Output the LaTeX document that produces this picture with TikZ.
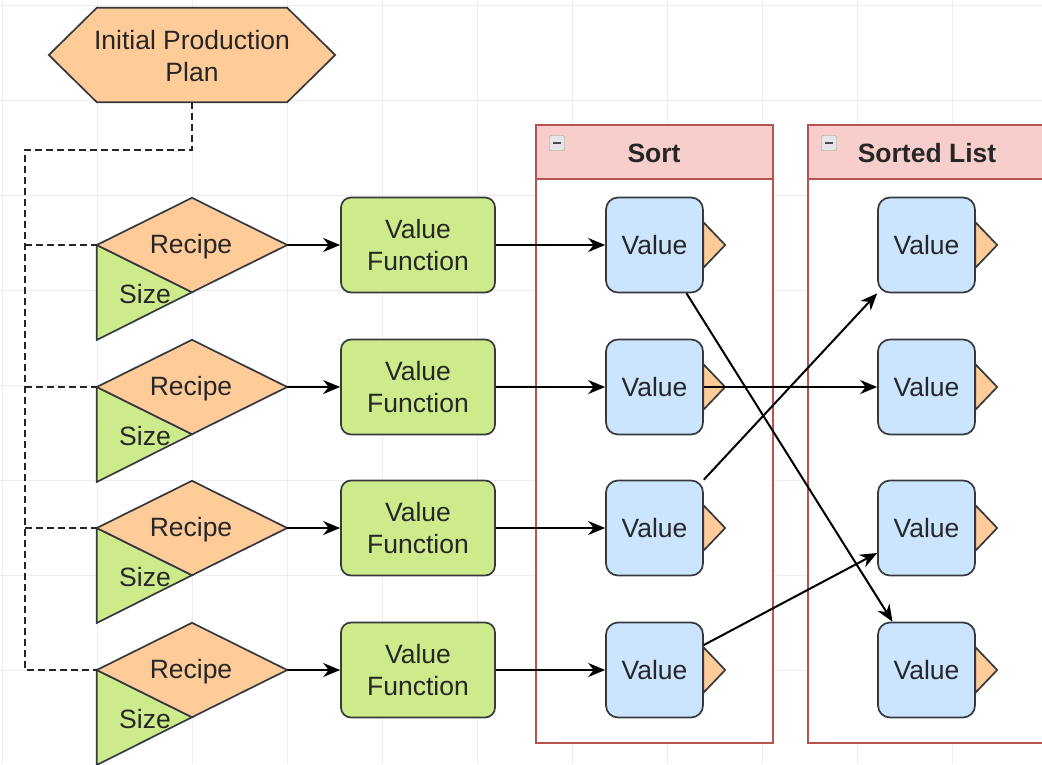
\documentclass[tikz,border=0pt]{standalone}
\usepackage{fontspec}
\setmainfont{Liberation Sans}
\usetikzlibrary{arrows.meta,calc}
\definecolor{orangeF}{HTML}{FFCC99}
\definecolor{greenF}{HTML}{CDEB8B}
\definecolor{blueF}{HTML}{CCE5FF}
\definecolor{pinkF}{HTML}{F8CECC}
\definecolor{pinkS}{HTML}{B85450}
\definecolor{edgeS}{HTML}{36393D}
\definecolor{gridC}{HTML}{EDEDED}
\begin{document}
\begin{tikzpicture}[x=1pt,y=-1pt,
  font=\fontsize{26.5}{32}\selectfont,
  shapeline/.style={draw=edgeS, line width=1.7pt},
  vfbox/.style={shapeline, fill=greenF, rounded corners=10, minimum width=154, minimum height=95, align=center, text=black!85, inner sep=0},
  valbox/.style={shapeline, fill=blueF, rounded corners=12, minimum width=97, minimum height=95, text=black!85, inner sep=0},
  tabshape/.style={shapeline, fill=orangeF},
  arr/.style={-{Stealth[length=17pt,width=14pt]}, line width=2pt, black},
  dashline/.style={draw=black!85, line width=2.2pt, dash pattern=on 7pt off 4pt},
  ghost/.style={inner sep=0, draw=none},
  txt/.style={text=black!85, inner sep=0},
  container/.style={draw=pinkS, line width=1.4pt},
  iconbox/.style={draw=gray!80, fill=gray!20, rounded corners=2, minimum size=15, inner sep=0}
]
\useasboundingbox (0,0) rectangle (1042,764);
\clip (0,0) rectangle (1042,764);
\fill[white] (0,0) rectangle (1042,764);
% grid
\foreach \gx in {2,97,...,1050} \draw[gridC, line width=0.8pt] (\gx,0) -- (\gx,764);
\foreach \gy in {5,100,...,770} \draw[gridC, line width=0.8pt] (0,\gy) -- (1042,\gy);

% containers
\fill[white] (536,125) rectangle (773,743);
\fill[pinkF] (536,125) rectangle (773,179);
\draw[container] (536,125) rectangle (773,743);
\draw[container] (536,179) -- (773,179);
\node[txt, font=\fontsize{26.5}{32}\selectfont\bfseries] (sortT) at (654,153) {Sort};
\node[iconbox] (ic1) at (557,143) {};
\draw[black!70, line width=2pt] ($(ic1.west)+(3.5,0)$) -- ($(ic1.east)+(-3.5,0)$);

\fill[white] (808,125) rectangle (1046,743);
\fill[pinkF] (808,125) rectangle (1046,179);
\draw[container] (808,125) rectangle (1046,743);
\draw[container] (808,179) -- (1046,179);
\node[txt, font=\fontsize{26.5}{32}\selectfont\bfseries] (sortedT) at (927,153) {Sorted List};
\node[iconbox] (ic2) at (829,143) {};
\draw[black!70, line width=2pt] ($(ic2.west)+(3.5,0)$) -- ($(ic2.east)+(-3.5,0)$);

% initial plan hexagon
\node[ghost, minimum width=190, minimum height=94] (plan) at (192,55) {};
\filldraw[shapeline, fill=orangeF] (plan.north west) -- (plan.north east) -- ($(plan.east)+(48,0)$) -- (plan.south east) -- (plan.south west) -- ($(plan.west)+(-48,0)$) -- cycle;
\node[txt, align=center] (planT) at (192,56) {Initial Production\\Plan};

% rows
\foreach \i/\y in {1/245,2/387,3/528,4/670}{
  \node[ghost, minimum width=190, minimum height=94] (r\i) at (192,\y) {};
  \filldraw[shapeline, fill=greenF] (r\i.west) -- (r\i.south) -- ($(r\i.west)+(0,95)$) -- cycle;
  \filldraw[shapeline, fill=orangeF] (r\i.west) -- (r\i.north) -- (r\i.east) -- (r\i.south) -- cycle;
  \node[txt] (rt\i) at (191,\y+2) {Recipe};
  \node[txt] (sz\i) at (145,\y+49) {Size};
  \node[vfbox] (vf\i) at (418,\y) {Value\\Function};
  \node[ghost, minimum width=97, minimum height=95] (sg\i) at (654.5,\y) {};
  \filldraw[tabshape] ($(sg\i.east)+(0,-23)$) -- ($(sg\i.east)+(22,0)$) -- ($(sg\i.east)+(0,23)$) -- cycle;
  \node[valbox] (s\i) at (654.5,\y) {Value};
  \node[ghost, minimum width=97, minimum height=95] (tg\i) at (926.5,\y) {};
  \filldraw[tabshape] ($(tg\i.east)+(0,-23)$) -- ($(tg\i.east)+(22,0)$) -- ($(tg\i.east)+(0,23)$) -- cycle;
  \node[valbox] (t\i) at (926.5,\y) {Value};
  \draw[arr] (r\i.east) -- (vf\i.west);
  \draw[arr] (vf\i.east) -- (s\i.west);
}

% dashed connectors
\coordinate (bend) at (192,150);
\coordinate (busT) at (25,150);
\coordinate (bus2) at (25,387);
\coordinate (bus3) at (25,528);
\coordinate (bus1) at (25,245);
\coordinate (bus4) at (25,670);
\draw[dashline] (plan.south) -- (bend) -- (busT) -- (bus4) -- (r4.west);
\draw[dashline] (bus1) -- (r1.west);
\draw[dashline] (bus2) -- (r2.west);
\draw[dashline] (bus3) -- (r3.west);

% sort arrows
\draw[arr] ($(s1.south)+(32,0)$) -- ($(t4.north)+(-34,0)$);
\draw[arr] (s2.east) -- (t2.west);
\draw[arr] (s3.north east) -- (t1.south west);
\draw[arr] ($(s4.east)+(0,-25)$) -- ($(t3.west)+(0,25)$);
\end{tikzpicture}
\end{document}
